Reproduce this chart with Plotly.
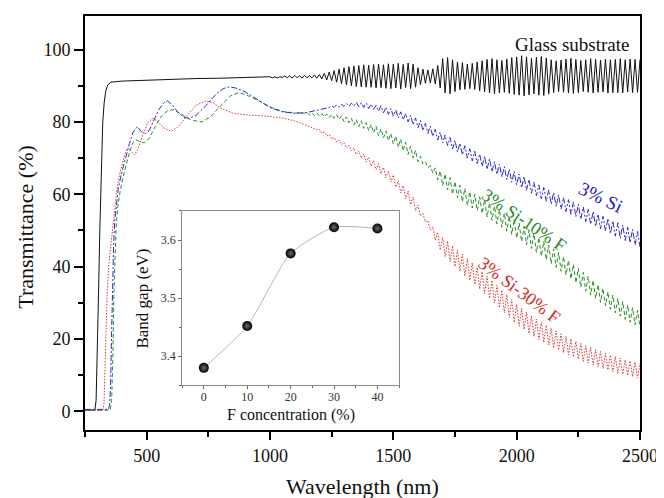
import numpy as np
import plotly.graph_objects as go

# ---------------- main spectra (wavelength nm, transmittance %) ----------------
glass_wl_smooth = [250, 290, 295, 300, 305, 310, 316, 322, 328, 334, 342, 355, 400, 500, 600, 700, 800, 900, 990]
glass_t_smooth = [0.3, 0.3, 3, 15, 33, 50, 68, 80, 85.5, 88.5, 90.2, 91.0, 91.3, 91.6, 91.8, 92.0, 92.1, 92.2, 92.3]
glass_wl_osc = np.arange(1000, 2501, 10)
glass_t_osc = [
    92.5, 92.2, 92.5, 92.2, 92.5, 92.3, 92.7, 92.2, 92.8, 92.1,
    92.9, 92.2, 92.8, 92.1, 92.9, 92.2, 92.8, 92.2, 93.0, 92.1,
    93.1, 91.9, 93.4, 91.6, 93.8, 91.4, 94.2, 91.0, 94.6, 90.6,
    95.0, 90.3, 95.3, 90.0, 95.5, 89.8, 95.6, 89.7, 95.8, 89.6,
    95.7, 89.6, 95.9, 89.4, 96.0, 89.5, 95.8, 89.3, 96.1, 89.2,
    96.0, 89.4, 96.2, 89.1, 95.9, 89.5, 96.3, 89.2, 96.0, 89.6,
    95.0, 90.3, 94.6, 90.7, 94.4, 90.8, 94.7, 90.5, 95.6, 89.4,
    97.5, 88.0, 97.8, 87.8, 97.2, 88.4, 96.6, 88.9, 96.4, 89.0,
    96.0, 89.2, 96.2, 89.0, 96.6, 88.6, 96.9, 88.3, 97.3, 88.0,
    97.5, 87.8, 97.2, 88.0, 97.0, 88.2, 97.4, 87.9, 97.8, 87.6,
    98.0, 87.4, 98.3, 87.2, 98.0, 87.5, 97.6, 87.8, 97.9, 87.4,
    98.1, 87.3, 97.7, 87.7, 97.2, 88.1, 96.9, 88.4, 97.1, 88.2,
    97.4, 88.0, 97.6, 87.9, 97.3, 88.1, 97.0, 88.4, 97.2, 88.2,
    97.5, 88.0, 97.3, 88.2, 97.1, 88.3, 97.4, 88.0, 97.2, 88.1,
    97.3, 88.1, 97.5, 88.0, 97.2, 88.3, 97.4, 88.1, 97.3, 88.2,
    97.2,
]

si_wl_smooth = [250, 345, 350, 354, 358, 362, 366, 371, 377, 385, 397, 408, 418, 430, 445, 463, 478, 495, 510,
                530, 550, 570, 585, 605, 630, 655, 672, 700, 740, 780, 810, 833, 860, 900, 950, 1000, 1050,
                1100, 1150, 1200, 1240]
si_t_smooth = [0.5, 0.5, 2, 8, 22, 36, 46, 53, 57, 61.5, 65.5, 68.5, 71, 74, 77.2, 78.7, 77.3, 76.8, 77.6,
               80.5, 83.5, 85.3, 85.8, 84.6, 82.4, 81.2, 81.0, 81.8, 84.5, 87.6, 89.2, 89.7, 89.4, 88.3, 86.2,
               84.0, 82.8, 82.4, 82.6, 83.3, 84.0]
si_wl_osc = np.arange(1250, 2501, 10)
si_t_osc = [
    84.4, 84.0, 84.7, 84.1, 84.9, 84.3, 85.1, 84.3, 85.2, 84.4,
    85.4, 84.2, 85.3, 84.0, 85.2, 83.7, 84.9, 83.5, 84.6, 83.0,
    84.5, 82.5, 84.1, 82.1, 83.7, 81.6, 83.3, 81.1, 82.8, 80.6,
    82.3, 80.0, 81.8, 79.2, 81.1, 78.4, 80.4, 77.6, 79.6, 76.8,
    78.8, 76.0, 78.0, 75.0, 77.2, 74.2, 76.4, 73.4, 75.7, 72.5,
    74.9, 71.7, 74.1, 70.9, 73.4, 70.0, 72.6, 69.2, 71.9, 68.5,
    71.1, 67.7, 70.5, 66.9, 69.8, 66.2, 69.0, 65.5, 68.3, 64.8,
    67.6, 64.1, 66.9, 63.3, 66.3, 62.6, 65.6, 61.8, 64.9, 61.1,
    64.1, 60.3, 63.3, 59.6, 62.6, 58.7, 61.9, 58.0, 61.2, 57.3,
    60.5, 56.6, 59.8, 55.9, 59.1, 55.2, 58.5, 54.5, 57.8, 53.8,
    57.2, 53.1, 56.5, 52.4, 55.8, 51.7, 55.2, 51.1, 54.5, 50.4,
    53.9, 49.8, 53.3, 49.1, 52.6, 48.4, 52.1, 47.8, 51.5, 47.2,
    50.9, 46.6, 50.3, 46.0, 49.7, 45.4,
]

f10_wl_smooth = [250, 352, 358, 363, 367, 371, 376, 383, 393, 405, 418, 432, 445, 456, 470, 490, 510, 535, 560,
                 585, 610, 640, 680, 724, 760, 800, 840, 873, 900, 950, 1000, 1050, 1100, 1140]
f10_t_smooth = [0.3, 0.3, 3, 15, 32, 44, 51, 56.5, 61, 65, 68.5, 72, 74.4, 75.1, 74.6, 74.2, 75.4, 78.8, 81.6,
                83.1, 83.4, 82.2, 80.5, 80.0, 81.5, 84.5, 87.2, 88.1, 87.6, 86.0, 84.2, 82.9, 82.5, 82.4]
f10_wl_osc = np.arange(1150, 2501, 10)
f10_t_osc = [
    82.6, 81.9, 82.5, 81.8, 82.5, 81.6, 82.3, 81.4, 82.2, 81.2,
    82.1, 81.0, 82.0, 80.7, 81.7, 80.1, 81.4, 79.8, 81.0, 79.2,
    80.6, 78.7, 80.3, 78.2, 79.8, 77.6, 79.3, 77.0, 78.8, 76.2,
    78.1, 75.6, 77.5, 74.8, 76.8, 73.9, 76.1, 73.0, 75.3, 72.0,
    74.4, 71.0, 73.3, 70.0, 72.1, 69.0, 70.5, 68.4, 69.0, 67.4,
    67.9, 65.9, 67.3, 64.0, 66.4, 62.4, 65.6, 61.2, 64.6, 60.0,
    63.5, 59.0, 62.5, 57.9, 61.6, 56.9, 60.7, 56.2, 60.0, 55.5,
    59.3, 54.7, 58.5, 53.7, 57.6, 52.8, 56.7, 51.8, 55.8, 50.9,
    54.8, 49.8, 53.9, 48.9, 53.0, 47.9, 52.0, 46.9, 51.1, 46.0,
    50.1, 45.0, 49.1, 43.9, 48.0, 42.9, 47.0, 41.9, 45.9, 40.8,
    44.9, 39.8, 43.9, 38.7, 42.8, 37.7, 41.7, 36.6, 40.6, 35.5,
    39.5, 34.3, 38.4, 33.2, 37.3, 32.1, 36.2, 31.2, 35.0, 30.1,
    34.0, 29.1, 33.0, 28.2, 32.1, 27.2, 31.2, 26.3, 30.3, 25.4,
    29.4, 24.6, 28.6, 23.9, 27.9, 23.2,
]

f30_wl_smooth = [250, 322, 327, 331, 335, 340, 347, 355, 363, 370, 378, 390, 403, 415, 425, 437, 451, 465, 485,
                 505, 525, 545, 570, 600, 630, 660, 700, 740, 770, 800, 850, 900, 950, 1000, 1050, 1100, 1150, 1190]
f30_t_smooth = [0.2, 0.2, 2, 12, 24, 33, 41, 46.5, 51, 56, 60.5, 65.5, 69.2, 71.8, 72.8, 72.0, 70.9, 72.5, 76.5,
                79.8, 81.0, 80.2, 78.3, 77.4, 78.8, 81.5, 84.6, 85.8, 85.3, 83.8, 82.4, 82.0, 81.8, 81.5, 81.1,
                80.3, 79.0, 77.9]
f30_wl_osc = np.arange(1200, 2501, 10)
f30_t_osc = [
    77.9, 76.9, 77.2, 76.1, 76.5, 75.3, 75.7, 74.5, 75.0, 73.7,
    74.3, 72.9, 73.6, 72.0, 72.8, 71.0, 72.0, 70.0, 71.1, 68.9,
    70.2, 67.8, 69.3, 66.8, 68.4, 65.7, 67.4, 64.6, 66.4, 63.4,
    65.3, 62.0, 63.8, 60.4, 62.4, 58.7, 60.9, 57.1, 59.2, 55.4,
    57.0, 54.0, 54.7, 52.4, 52.7, 50.1, 51.0, 47.3, 49.5, 44.6,
    48.1, 42.8, 47.0, 41.4, 45.8, 40.0, 44.6, 38.7, 43.4, 37.4,
    42.2, 36.2, 41.0, 35.0, 39.8, 33.8, 38.6, 32.5, 37.4, 31.2,
    36.2, 29.9, 34.8, 28.6, 33.5, 27.2, 32.2, 25.9, 30.9, 24.6,
    29.6, 23.5, 28.5, 22.6, 27.4, 21.5, 26.4, 20.7, 25.5, 19.8,
    24.6, 19.0, 23.8, 18.3, 22.9, 17.5, 22.2, 16.9, 21.4, 16.2,
    20.7, 15.6, 20.0, 15.0, 19.3, 14.4, 18.7, 13.8, 18.1, 13.3,
    17.6, 12.8, 17.0, 12.3, 16.5, 11.8, 16.0, 11.4, 15.5, 10.9,
    15.1, 10.5, 14.7, 10.2, 14.2, 9.9, 13.9, 9.6, 13.6, 9.2,
    13.3,
]

# ---------------- inset: band gap vs F concentration ----------------
f_conc = [0, 10, 20, 30, 40]
band_gap = [3.38, 3.452, 3.577, 3.622, 3.620]

x_ticks = [500, 1000, 1500, 2000, 2500]
y_ticks = [0, 20, 40, 60, 80, 100]
inset_x_ticks = [0, 10, 20, 30, 40]
inset_y_ticks = [3.4, 3.5, 3.6]

SERIF = "Liberation Serif, Times New Roman, serif"

series = [
    ("Glass substrate", glass_wl_smooth, glass_t_smooth, glass_wl_osc, glass_t_osc, "#111111", "solid"),
    ("3% Si-30% F", f30_wl_smooth, f30_t_smooth, f30_wl_osc, f30_t_osc, "#e03838", "1.5px,1.5px"),
    ("3% Si-10% F", f10_wl_smooth, f10_t_smooth, f10_wl_osc, f10_t_osc, "#2a8f2a", "4px,2.5px"),
    ("3% Si", si_wl_smooth, si_t_smooth, si_wl_osc, si_t_osc, "#2c2ccf", "6px,2px,2px,2px"),
]

fig = go.Figure()
for name, xs, ys, xo, yo, col, dash in series:
    assert len(xo) == len(yo), name
    fig.add_trace(go.Scatter(
        x=list(xs) + list(xo), y=list(ys) + list(yo), mode="lines", name=name,
        line=dict(color=col, width=1, dash=dash), showlegend=False, hoverinfo="skip",
        xaxis="x", yaxis="y"))

fig.add_trace(go.Scatter(
    x=f_conc, y=band_gap, mode="lines+markers", showlegend=False,
    line=dict(color="#b5b5b5", width=1, shape="spline", smoothing=0.6),
    marker=dict(size=10, color="#000000", gradient=dict(type="radial", color="#6a6a6a"),
                line=dict(width=0)),
    xaxis="x2", yaxis="y2"))

main_axis = dict(showline=True, linecolor="#000", linewidth=2, mirror=True, showgrid=False,
                 zeroline=False, ticks="outside", tickwidth=1.5, tickcolor="#000",
                 tickfont=dict(family=SERIF, size=18, color="#111"))
inset_axis = dict(showline=True, linecolor="#8a8a8a", linewidth=1, mirror=True, showgrid=False,
                  zeroline=False, ticks="outside", tickwidth=1, tickcolor="#666", ticklen=3,
                  tickfont=dict(family=SERIF, size=12, color="#333"))

# The page body adds an 8 px offset; the figure is sized so it fills the 664x498 window exactly.
fig.update_layout(
    width=656, height=490,
    margin=dict(l=77, r=19, t=6, b=68),
    paper_bgcolor="white", plot_bgcolor="white",
    xaxis=dict(main_axis, range=[250, 2500], tickvals=x_ticks, ticklen=8,
               minor=dict(dtick=250, tick0=250, ticklen=5, tickwidth=1.5, tickcolor="#000", ticks="outside")),
    yaxis=dict(main_axis, range=[-5.2, 109.3], tickvals=y_ticks, ticklen=9,
               minor=dict(dtick=10, tick0=0, ticklen=5, tickwidth=1.5, tickcolor="#000", ticks="outside")),
    xaxis2=dict(inset_axis, domain=[0.175, 0.566], anchor="y2", range=[-5, 45], tickvals=inset_x_ticks,
                ticklabelstandoff=-3,
                minor=dict(dtick=5, tick0=0, ticklen=2, tickcolor="#666", ticks="outside")),
    yaxis2=dict(inset_axis, domain=[0.108, 0.529], anchor="x2", range=[3.35, 3.65], tickvals=inset_y_ticks,
                tickformat=".1f",
                minor=dict(dtick=0.05, tick0=3.35, ticklen=2, tickcolor="#666", ticks="outside")),
)

ann = [
    dict(text="Wavelength (nm)", xref="paper", yref="paper", x=0.5, y=-0.137, showarrow=False,
         font=dict(family=SERIF, size=22, color="#111"), xanchor="center", yanchor="middle"),
    dict(text="Transmittance (%)", xref="paper", yref="paper", x=-0.107, y=0.49, showarrow=False,
         textangle=-90, font=dict(family=SERIF, size=22, color="#111"), xanchor="center", yanchor="middle"),
    dict(text="F concentration (%)", xref="x2 domain", yref="y2 domain", x=0.5, y=-0.168, showarrow=False,
         font=dict(family=SERIF, size=16, color="#111"), xanchor="center", yanchor="middle"),
    dict(text="Band gap (eV)", xref="x2 domain", yref="y2 domain", x=-0.183, y=0.5, showarrow=False,
         textangle=-90, font=dict(family=SERIF, size=17, color="#111"), xanchor="center", yanchor="middle"),
    dict(text="Glass substrate", xref="x", yref="y", x=2468, y=101.5, showarrow=False,
         font=dict(family=SERIF, size=19, color="#111"), xanchor="right", yanchor="middle"),
    dict(text="3% Si", xref="x", yref="y", x=2343, y=59.2, showarrow=False, textangle=26,
         font=dict(family=SERIF, size=19, color="#2222c8"), xanchor="center", yanchor="middle"),
    dict(text="3% Si-10% F", xref="x", yref="y", x=2030, y=53.0, showarrow=False, textangle=34,
         font=dict(family=SERIF, size=18, color="#238a23"), xanchor="center", yanchor="middle"),
    dict(text="3% Si-30% F", xref="x", yref="y", x=2010, y=33.5, showarrow=False, textangle=37,
         font=dict(family=SERIF, size=18, color="#d82626"), xanchor="center", yanchor="middle"),
]
fig.update_layout(annotations=ann)

fig.write_html("out.html")
